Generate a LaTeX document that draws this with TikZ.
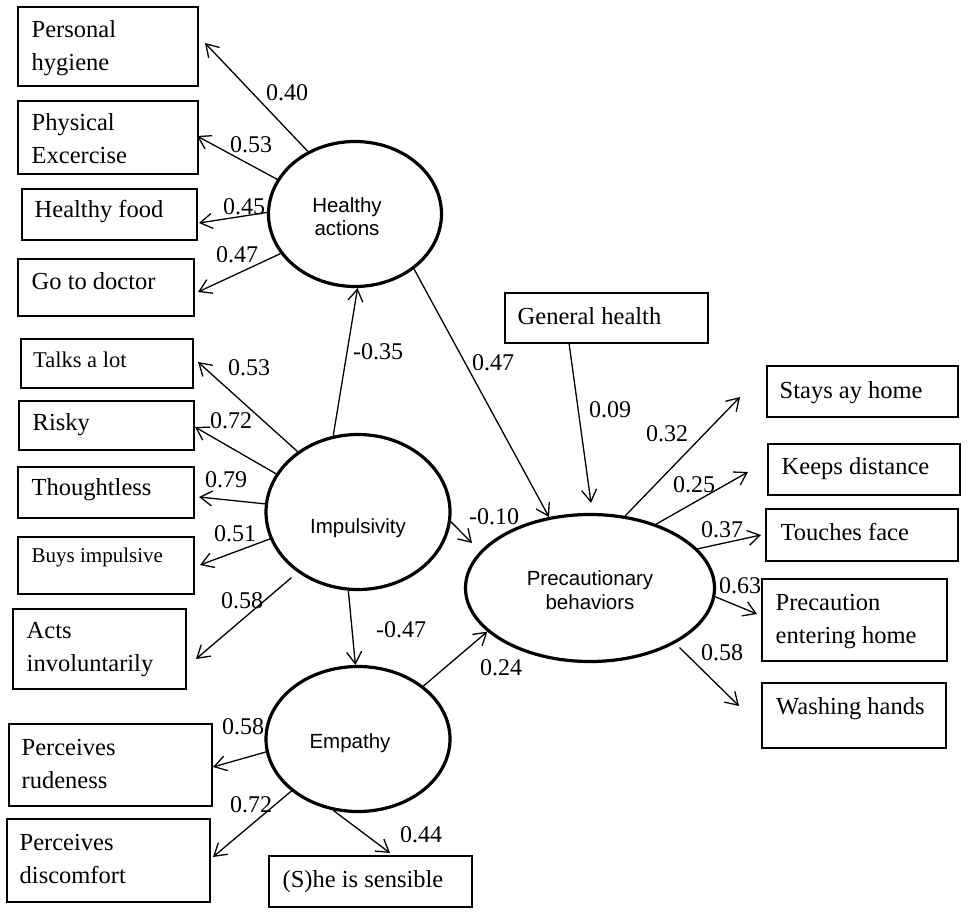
\documentclass[tikz,border=0pt]{standalone}
\usepackage{fontspec}
\setmainfont{Liberation Serif}
\newfontfamily\arialf{Liberation Sans}
\usetikzlibrary{arrows.meta,shapes.geometric,calc}
\begin{document}
\begin{tikzpicture}[x=1pt,y=-1pt,
  box/.style={draw,line width=1.6pt,rectangle,anchor=north west,inner sep=0pt,outer sep=0pt},
  btxt/.style={anchor=north west,inner sep=0pt,align=left,font=\fontsize{24.5}{33}\selectfont},
  lat/.style={draw,ellipse,line width=3.2pt,inner sep=0pt},
  ltxt/.style={align=center,inner sep=0pt,font=\arialf\fontsize{20.5}{23.5}\selectfont},
  arr/.style={-{Straight Barb[length=12pt,width=15pt]},line width=1.3pt},
  num/.style={inner sep=0pt,font=\fontsize{24}{28}\selectfont}]
\useasboundingbox (0,0) rectangle (971,915);

% indicator boxes
\node[box,minimum width=180pt,minimum height=79pt] (ph) at (18,7) {};
\node[btxt] (pht) at ($(ph.north west)+(13.5,13.5)$) {Personal\\hygiene};
\node[box,minimum width=180pt,minimum height=73pt] (pe) at (18,101) {};
\node[btxt] (pet) at ($(pe.north west)+(13.5,12)$) {Physical\\Excercise};
\node[box,minimum width=175pt,minimum height=51pt] (hf) at (22,189) {};
\node[btxt] (hft) at ($(hf.north west)+(12.5,11.5)$) {Healthy food};
\node[box,minimum width=176pt,minimum height=57pt] (gd) at (18,259) {};
\node[btxt] (gdt) at ($(gd.north west)+(13.5,13.5)$) {Go to doctor};

\node[box,minimum width=172pt,minimum height=49pt] (tl) at (21,339) {};
\node[btxt,font=\fontsize{22.5}{30}\selectfont] (tlt) at ($(tl.north west)+(12,12.5)$) {Talks a lot};
\node[box,minimum width=175pt,minimum height=49pt] (rk) at (19,401) {};
\node[btxt] (rkt) at ($(rk.north west)+(13.5,12.5)$) {Risky};
\node[box,minimum width=176pt,minimum height=51pt] (th) at (18,467) {};
\node[btxt] (tht) at ($(th.north west)+(13.5,11.5)$) {Thoughtless};
\node[box,minimum width=176pt,minimum height=57pt] (bi) at (18,537) {};
\node[btxt,font=\fontsize{21}{28}\selectfont] (bit) at ($(bi.north west)+(13.5,11)$) {Buys impulsive};
\node[box,minimum width=173pt,minimum height=80pt] (ai) at (13,609) {};
\node[btxt] (ait) at ($(ai.north west)+(13.5,13.5)$) {Acts\\involuntarily};

\node[box,minimum width=203pt,minimum height=82pt] (prd) at (9,724) {};
\node[btxt] (prdt) at ($(prd.north west)+(12.5,15.5)$) {Perceives\\rudeness};
\node[box,minimum width=203pt,minimum height=83pt] (pd) at (7,819) {};
\node[btxt] (pdt) at ($(pd.north west)+(12.5,15.5)$) {Perceives\\discomfort};
\node[box,minimum width=203pt,minimum height=51pt] (sb) at (269,856) {};
\node[btxt] (sbt) at ($(sb.north west)+(13.5,14)$) {(S)he is sensible};

\node[box,minimum width=203pt,minimum height=50pt] (gh) at (505,293) {};
\node[btxt] (ght) at ($(gh.north west)+(12.5,14)$) {General health};
\node[box,minimum width=191pt,minimum height=51pt] (sh) at (767,366) {};
\node[btxt] (sht) at ($(sh.north west)+(12.5,15.5)$) {Stays ay home};
\node[box,minimum width=192pt,minimum height=51pt] (kd) at (768,444) {};
\node[btxt] (kdt) at ($(kd.north west)+(13.5,13.5)$) {Keeps distance};
\node[box,minimum width=192pt,minimum height=52pt] (tf) at (766,509) {};
\node[btxt] (tft) at ($(tf.north west)+(14.5,14.5)$) {Touches face};
\node[box,minimum width=185pt,minimum height=82pt] (pr) at (762,579) {};
\node[btxt] (prt) at ($(pr.north west)+(13.5,15.5)$) {Precaution\\entering home};
\node[box,minimum width=184pt,minimum height=65pt] (wh) at (762,683) {};
\node[btxt] (wht) at ($(wh.north west)+(14,14.5)$) {Washing hands};

% latent variables
\node[lat,minimum width=173pt,minimum height=145pt] (he) at (355,214) {};
\node[ltxt,anchor=north] (het) at (347,197) {Healthy\\actions};
\node[lat,minimum width=184pt,minimum height=155pt] (im) at (358,512) {};
\node[ltxt,anchor=base] (imt) at (358,533) {Impulsivity};
\node[lat,minimum width=184pt,minimum height=145pt] (em) at (358,739) {};
\node[ltxt,anchor=base] (emt) at (350,748) {Empathy};
\node[lat,minimum width=249pt,minimum height=147pt] (pb) at (590,588) {};
\node[ltxt,anchor=north] (pbt) at (590,570.5) {Precautionary\\behaviors};

% connectors
\draw[arr] (he.127) -- ($(ph.east)+(7,-3.5)$);
\draw[arr] (he.156) -- ($(pe.east)+(-1,-1.5)$);
\draw[arr] (he.179) -- ($(hf.east)+(2,8.5)$);
\draw[arr] (he.208) -- ($(gd.east)+(4,4.5)$);

\draw[arr] (im.135) -- ($(tl.east)+(5,-1.5)$);
\draw[arr] (im.155) -- ($(rk.east)+(1,1.5)$);
\draw[arr] (im.175) -- ($(th.east)+(5,4.5)$);
\draw[arr] (im.197) -- ($(bi.east)+(6,-0.5)$);
\draw[arr,shorten <=8pt] (im.225) -- ($(ai.east)+(10,10)$);
\draw[arr] (im.108) -- (he.272);
\draw[arr] (im.263) -- (em.92);
\draw[arr] (im.354) -- ($(pb.center)+(-118,-45)$);
\draw[arr] (he.317) -- (pb.120);
\draw[arr] ($(gh.south west)+(64,0)$) -- ($(pb.north)+(1,-10)$);

\draw[arr] (pb.64) -- ($(sh.south west)+(-27,-20)$);
\draw[arr] (pb.44) -- ($(kd.west)+(-20,2.5)$);
\draw[arr] (pb.20) -- ($(tf.west)+(-5,0)$);
\draw[arr] (pb.356) -- ($(pr.west)+(-5,-6)$);
\draw[arr,shorten <=6pt] (pb.327) -- ($(wh.west)+(-23,-9.5)$);

\draw[arr] (em.39) -- (pb.203);
\draw[arr] (em.188) -- ($(prd.east)+(1,2)$);
\draw[arr] (em.218) -- ($(pd.east)+(3,-3.5)$);
\draw[arr] (em.251) -- ($(sb.north)+(19.5,-3)$);

% coefficients
\node[num] (l1) at (287,93) {0.40};
\node[num] (l2) at (251,145) {0.53};
\node[num] (l3) at (244,207) {0.45};
\node[num] (l4) at (237,255) {0.47};
\node[num] (l5) at (249,368) {0.53};
\node[num] (l6) at (378,352) {-0.35};
\node[num] (l7) at (231,421) {0.72};
\node[num] (l8) at (226,480) {0.79};
\node[num] (l9) at (235,534) {0.51};
\node[num] (l10) at (242,601) {0.58};
\node[num] (l11) at (401,630) {-0.47};
\node[num] (l12) at (243,727) {0.58};
\node[num] (l13) at (251,805) {0.72};
\node[num] (l14) at (421,835) {0.44};
\node[num] (l15) at (493,363) {0.47};
\node[num] (l16) at (610,410) {0.09};
\node[num] (l17) at (667,434) {0.32};
\node[num] (l18) at (694,485) {0.25};
\node[num] (l19) at (722,530) {0.37};
\node[num] (l20) at (494,517) {-0.10};
\node[num] (l21) at (501,668) {0.24};
\node[num] (l22) at (740,586) {0.63};
\node[num] (l23) at (722,653) {0.58};
\end{tikzpicture}
\end{document}
